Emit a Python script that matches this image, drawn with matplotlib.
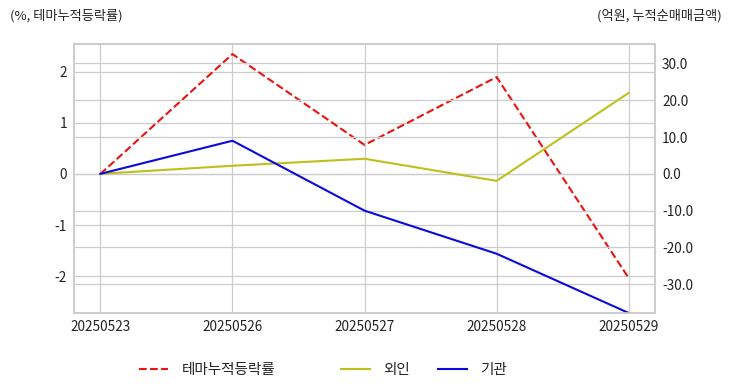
import matplotlib
matplotlib.use("Agg")
import matplotlib.pyplot as plt

plt.rcParams['font.family'] = ['Noto Sans CJK KR', 'DejaVu Sans']
plt.rcParams['axes.unicode_minus'] = False

dates = ['20250523', '20250526', '20250527', '20250528', '20250529']
theme_rate = [0.0, 2.35, 0.57, 1.90, -2.04]
foreign = [0.0, 2.2, 4.1, -1.9, 22.0]
institution = [0.0, 9.0, -10.0, -21.7, -37.8]

grid_c = '#cccccc'
fig = plt.figure(figsize=(7.32, 3.92), dpi=100)
ax1 = fig.add_axes([0.101, 0.2015, 0.794, 0.6865])
ax2 = ax1.twinx()

x = list(range(len(dates)))
ax1.plot(x, theme_rate, color='#e8140f', linestyle='--', linewidth=1.5, label='테마누적등락률')
ax2.plot(x, foreign, color='#bfbf1a', linewidth=1.5, label='외인')
ax2.plot(x, institution, color='#0a0adc', linewidth=1.5, label='기관')

ax1.set_xlim(-0.2, 4.2)
ax1.set_ylim(-2.725, 2.55)
ax2.set_ylim(-37.8, 35.3)
ax1.set_xticks(x)
ax1.set_xticklabels(dates)
ax1.set_yticks([-2, -1, 0, 1, 2])
ax2.set_yticks([-30, -20, -10, 0, 10, 20, 30])
ax2.set_yticklabels([f'{v:.1f}' for v in [-30, -20, -10, 0, 10, 20, 30]])

for ax in (ax1, ax2):
    ax.grid(True, color=grid_c, linewidth=0.9)
    ax.set_axisbelow(True)
    ax.tick_params(length=0, labelsize=9.8, colors='#222222', pad=5)
    for s in ax.spines.values():
        s.set_color(grid_c)
        s.set_linewidth(1.2)
ax2.grid(False, axis='x')
ax2.grid(True, axis='y', color=grid_c, linewidth=0.9)

fig.text(10/732, 1-16/392, '(%, 테마누적등락률)', fontsize=9.5, ha='left', va='center', color='#222222')
fig.text(722/732, 1-16/392, '(억원, 누적순매매금액)', fontsize=9.5, ha='right', va='center', color='#222222')

h1, l1 = ax1.get_legend_handles_labels()
h2, l2 = ax2.get_legend_handles_labels()
leg1 = fig.legend(h1, l1, loc='center left', bbox_to_anchor=(139/732, 1-370/392),
                  frameon=False, borderpad=0, borderaxespad=0, handlelength=2.0,
                  handletextpad=0.9, fontsize=10.5)
leg2 = fig.legend(h2, l2, loc='center left', bbox_to_anchor=(341/732, 1-370/392),
                  frameon=False, borderpad=0, borderaxespad=0, handlelength=2.0,
                  handletextpad=0.9, columnspacing=1.9, ncol=2, fontsize=10.5)
for leg in (leg1, leg2):
    for t in leg.get_texts():
        t.set_color('#222222')

fig.savefig('out.png', dpi=100)
